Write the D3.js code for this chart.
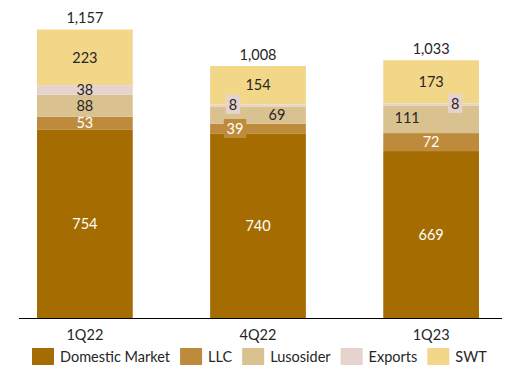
<!DOCTYPE html>
<html>
<head>
<meta charset="utf-8">
<script src="https://cdn.jsdelivr.net/npm/d3@7"></script>
<style>
  body { margin: 0; background: #fff; }
  svg text { font-family: Lato, "Open Sans", sans-serif; }
</style>
</head>
<body>
<div id="chart"></div>
<script>
// data
const categories = ['1Q22', '4Q22', '1Q23']
const seriesNames = ['Domestic Market', 'LLC', 'Lusosider', 'Exports', 'SWT']
const domestic = [754, 740, 669]
const llc = [53, 39, 72]
const lusosider = [88, 69, 111]
const exportsVals = [38, 8, 8]
const swt = [223, 154, 173]
const totals = [1157, 1008, 1033]

const colors = ['#a56c02', '#bd8b3b', '#dac290', '#e6d3cd', '#f2d789']
const labelColors = ['#fff', '#fff', '#262626', '#262626', '#262626']
const fontSize = 14.5

// label nudges (px) for the small segments, key = series index + '-' + category index
const labelShift = {
  '1-1': {dx: -23, box: true},
  '2-1': {dx: 19, dy: 0},
  '3-1': {dx: -25, dy: -1, box: true},
  '2-2': {dx: -24, dy: -1},
  '3-2': {dx: 24, dy: -1, box: true}
}

const width = 513, height = 372
const margin = {top: 29.3, bottom: 54}
const baseline = height - margin.bottom

const rows = categories.map(function(c, i){
  return {cat: c, 'Domestic Market': domestic[i], 'LLC': llc[i], 'Lusosider': lusosider[i],
          'Exports': exportsVals[i], 'SWT': swt[i], total: totals[i]}
})

const stack = d3.stack().keys(seriesNames)(rows)

const x = d3.scaleBand().domain(categories).range([37, 479]).paddingInner(0.447).paddingOuter(0)
const y = d3.scaleLinear().domain([0, d3.max(totals)]).range([baseline, margin.top])

const svg = d3.select('#chart').append('svg')
  .attr('width', width)
  .attr('height', height)

const layers = svg.append('g').selectAll('g.layer')
  .data(stack)
  .enter().append('g')
  .attr('class', 'layer')
  .attr('fill', function(d, i){ return colors[i] })

layers.selectAll('rect')
  .data(function(d){ return d })
  .enter().append('rect')
  .attr('x', function(d){ return x(d.data.cat) })
  .attr('width', x.bandwidth())
  .attr('y', function(d){ return y(d[1]) })
  .attr('height', function(d){ return y(d[0]) - y(d[1]) })

// segment labels
const labels = svg.append('g')
stack.forEach(function(layer, si){
  layer.forEach(function(d, ci){
    const shift = labelShift[si + '-' + ci] || {}
    const cx = x(d.data.cat) + x.bandwidth() / 2 + (shift.dx || 0)
    const cy = (y(d[0]) + y(d[1])) / 2 + (shift.dy || 0)
    const val = d[1] - d[0]
    if(shift.box){
      const w = String(val).length * 8.2 + 6
      labels.append('rect')
        .attr('x', cx - w / 2)
        .attr('y', cy - 9.5)
        .attr('width', w)
        .attr('height', 19)
        .attr('fill', colors[si])
    }
    labels.append('text')
      .attr('x', cx)
      .attr('y', cy)
      .attr('dy', '0.36em')
      .attr('text-anchor', 'middle')
      .attr('font-size', fontSize)
      .attr('fill', labelColors[si])
      .text(val)
  })
})

// totals
svg.append('g').selectAll('text')
  .data(rows)
  .enter().append('text')
  .attr('x', function(d){ return x(d.cat) + x.bandwidth() / 2 })
  .attr('y', function(d){ return y(d.total) - 6.5 })
  .attr('text-anchor', 'middle')
  .attr('font-size', fontSize)
  .attr('fill', '#262626')
  .text(function(d){ return d3.format(',')(d.total) })

// x axis
const xAxis = svg.append('g')
  .attr('transform', 'translate(0,' + baseline + ')')
  .call(d3.axisBottom(x).tickSize(0).tickPadding(12))
xAxis.select('.domain').attr('d', 'M19,0.5H502').attr('stroke', '#000').attr('stroke-width', 1)
xAxis.selectAll('text')
  .style('font-family', 'Lato, sans-serif')
  .attr('font-size', fontSize)
  .attr('fill', '#262626')

// legend
const legend = svg.append('g').attr('transform', 'translate(32,348)')
let lx = 0
seriesNames.forEach(function(name, i){
  const item = legend.append('g').attr('transform', 'translate(' + lx + ',0)')
  item.append('rect').attr('width', 22).attr('height', 17).attr('fill', colors[i])
  const t = item.append('text')
    .attr('x', 28)
    .attr('y', 8.5)
    .attr('dy', '0.36em')
    .attr('font-size', fontSize)
    .attr('fill', '#262626')
    .text(name)
  lx += 28 + t.node().getComputedTextLength() + 10
})
</script>
</body>
</html>
